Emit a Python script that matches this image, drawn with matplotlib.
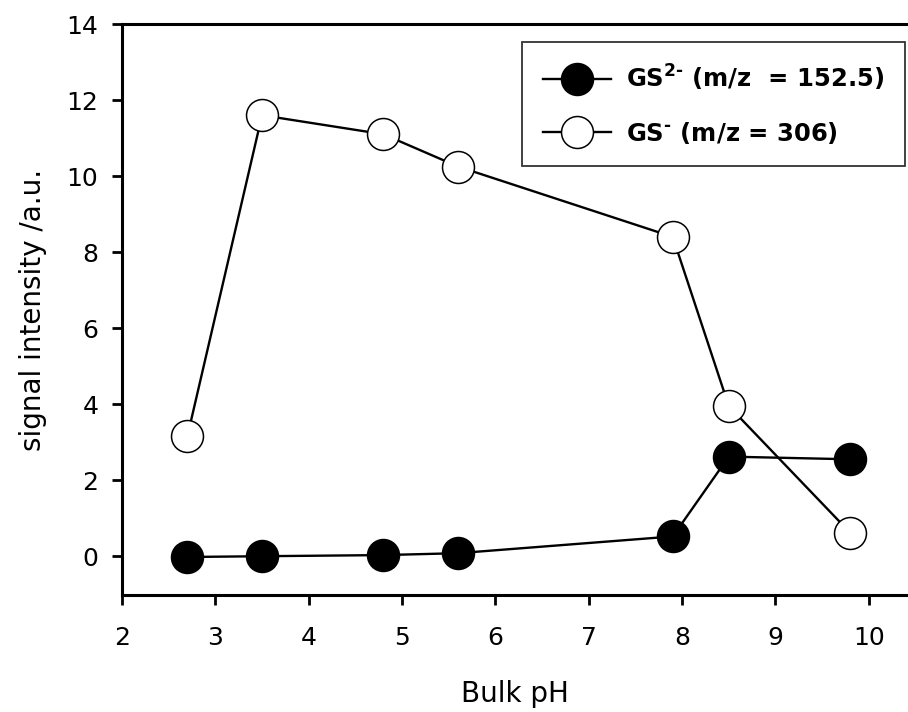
import numpy as np
import matplotlib
matplotlib.use('Agg')
import matplotlib.pyplot as plt

# data
ph = [2.7, 3.5, 4.8, 5.6, 7.9, 8.5, 9.8]
gs2 = [-0.02, 0.0, 0.03, 0.08, 0.52, 2.62, 2.55]   # GS2- (m/z = 152.5)
gs1 = [3.15, 11.6, 11.1, 10.25, 8.4, 3.95, 0.62]   # GS- (m/z = 306)

xticks = [2, 3, 4, 5, 6, 7, 8, 9, 10]
yticks = [0, 2, 4, 6, 8, 10, 12, 14]

plt.rcParams['mathtext.fontset'] = 'custom'
plt.rcParams['mathtext.rm'] = 'DejaVu Sans:bold'
plt.rcParams['mathtext.it'] = 'DejaVu Sans:bold'
plt.rcParams['mathtext.bf'] = 'DejaVu Sans:bold'

fig = plt.figure(figsize=(9.08, 7.12), dpi=100)
ax = fig.add_axes([122/908, 1 - 595/712, 1 - 122/908, (595 - 24)/712])

ax.plot(ph, gs2, '-o', color='black', lw=1.7, ms=23, mfc='black', mec='black',
        mew=1.1, label=r'GS$^{\text{2-}}$ (m/z  = 152.5)', zorder=3)
ax.plot(ph, gs1, '-o', color='black', lw=1.7, ms=23, mfc='white', mec='black',
        mew=1.1, label=r'GS$^{\text{-}}$ (m/z = 306)', zorder=3)

ax.set_xlim(2, 10.42)
ax.set_ylim(-1.02, 14)
ax.set_xticks(xticks)
ax.set_yticks(yticks)
ax.spines['right'].set_visible(False)
for s in ['left', 'bottom', 'top']:
    ax.spines[s].set_linewidth(2.2)
ax.tick_params(direction='out', length=7, width=2, labelsize=18)
ax.tick_params(axis='x', pad=15)
ax.tick_params(axis='y', pad=10)

ax.set_xlabel('Bulk pH', fontsize=20, labelpad=22)
ax.set_ylabel('signal intensity /a.u.', fontsize=20, labelpad=14)

leg = ax.legend(loc='upper left', bbox_to_anchor=(522/908, 1 - 42/712),
                bbox_transform=fig.transFigure, fancybox=False, framealpha=1,
                edgecolor='#333333', handlelength=2.8, borderpad=0.85,
                labelspacing=1.1, handletextpad=0.62, borderaxespad=0,
                prop={'family': 'DejaVu Sans', 'weight': 'bold', 'size': 17.5})
leg.get_frame().set_linewidth(1.3)

fig.savefig('out.png', dpi=100)
